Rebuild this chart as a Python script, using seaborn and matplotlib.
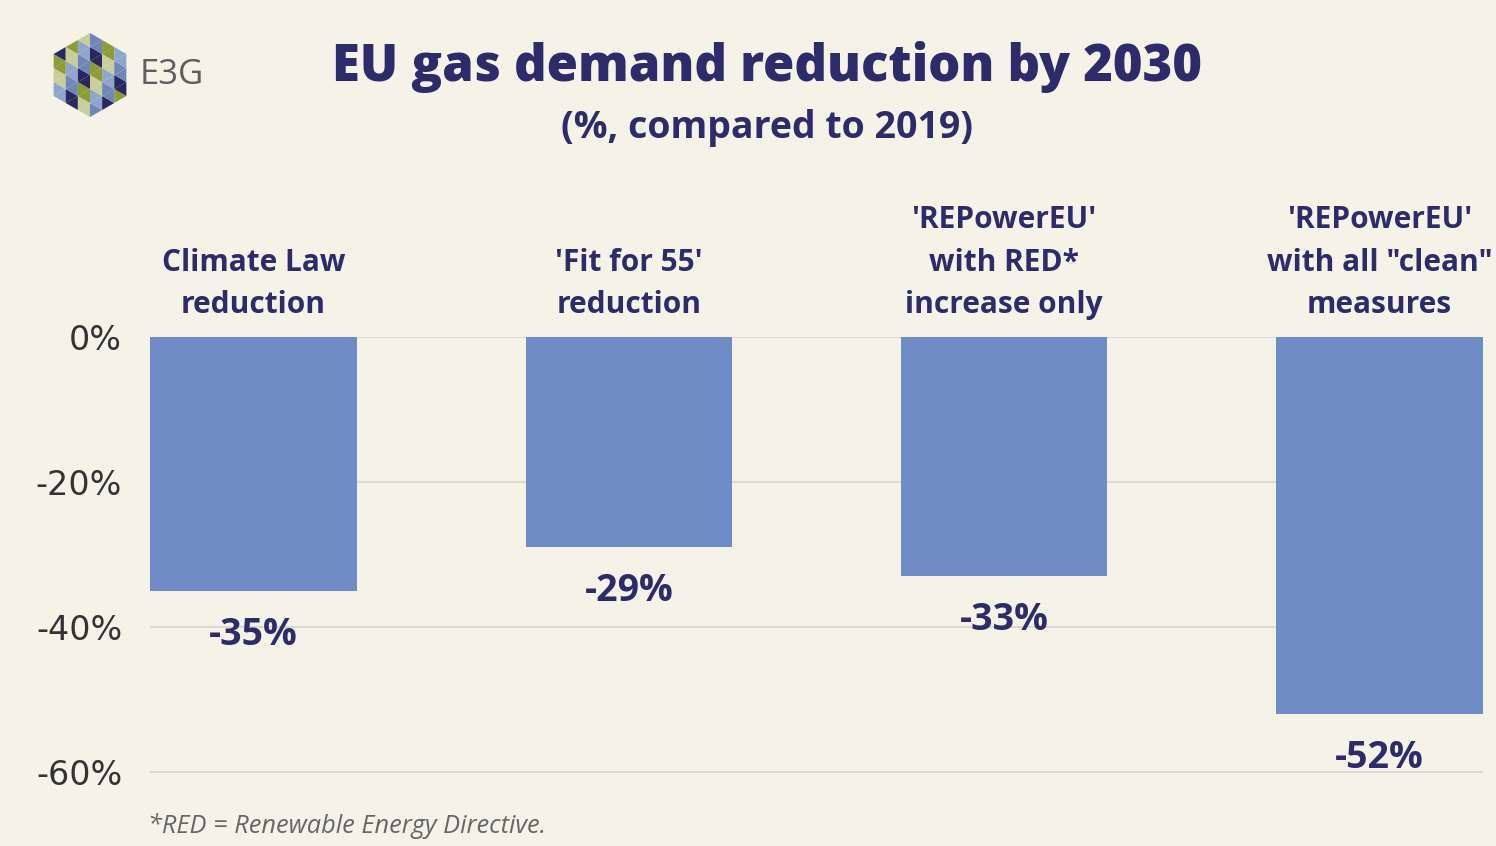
import numpy as np
import pandas as pd
import matplotlib
matplotlib.use("Agg")
import matplotlib.pyplot as plt
from matplotlib.patches import Polygon
import seaborn as sns

# Data
scenarios = [
    "Climate Law\nreduction",
    "'Fit for 55'\nreduction",
    "'REPowerEU'\nwith RED*\nincrease only",
    "'REPowerEU'\nwith all \"clean\"\nmeasures",
]
reduction_pct = [-35, -29, -33, -52]
ytick_values = [0, -20, -40, -60]
ytick_labels = ["0%", "-20%", "-40%", "-60%"]

BG = "#f5f2e7"
NAVY = "#2e2b6b"
BAR = "#6f8cc7"

sns.set_theme(style="white")
plt.rcParams["font.family"] = ["Open Sans", "DejaVu Sans"]

df = pd.DataFrame({"scenario": scenarios, "reduction": reduction_pct})

fig = plt.figure(figsize=(14.96, 8.46), dpi=100, facecolor=BG)
W, H = 1496, 846
ax = fig.add_axes([150 / W, 59.5 / H, (1483 - 150) / W, (786.5 - 337) / H])
ax.set_facecolor(BG)

sns.barplot(data=df, x="scenario", y="reduction", color=BAR, width=0.55,
            saturation=1, linewidth=0, edgecolor="none", ax=ax, zorder=3)

ax.set_xlim(-0.276, 3.276)
ax.set_ylim(-62, 0)
ax.set_yticks(ytick_values)
ax.set_yticklabels(ytick_labels, fontfamily="DejaVu Sans")
ax.set_xlabel("")
ax.set_ylabel("")
for s in ax.spines.values():
    s.set_visible(False)
ax.grid(False)
for v in ytick_values:
    ax.axhline(v, color="#dcdad0", lw=1.5, zorder=1)

ax.tick_params(axis="y", length=0, pad=20, labelsize=24, labelcolor="#333333")
ax.tick_params(axis="x", length=0, bottom=False, labelbottom=False,
               top=True, labeltop=True, pad=12, labelsize=21.5, labelcolor=NAVY)
for lbl in ax.get_xticklabels():
    lbl.set_fontweight("bold")
    lbl.set_linespacing(1.55)

for cont in ax.containers:
    ax.bar_label(cont, labels=[f"{v}%" for v in reduction_pct], padding=18,
                 fontsize=27, fontweight="bold", color=NAVY)

# Titles
fig.text(767 / W, 1 - 67 / H, "EU gas demand reduction by 2030", ha="center",
         va="center", fontsize=36.5, fontweight="heavy", color=NAVY)
fig.text(767 / W, 1 - 128 / H, "(%, compared to 2019)", ha="center",
         va="center", fontsize=27, fontweight="bold", color=NAVY)

# Footnote
fig.text(148 / W, 1 - 826 / H, "*RED = Renewable Energy Directive.", ha="left",
         va="center", fontsize=18.3, style="italic", color="#666666")

# Logo: hexagon built from a triangular lattice
lax = fig.add_axes([40 / W, 1 - 125 / H, 100 / W, 100 / H])
lax.set_xlim(-50, 50)
lax.set_ylim(-50, 50)
lax.set_aspect("equal")
lax.axis("off")
R = 42.0
n = 3
s = R / n
a = np.array([0.0, s])
b = np.array([np.cos(np.pi / 6) * s, np.sin(np.pi / 6) * s])
palette = ["#8f9b34", "#8ea6cc", "#2a2660", "#c9cd9c", "#6f86b8"]
normals = [np.array([np.cos(t), np.sin(t)]) for t in (0, np.pi / 3, 2 * np.pi / 3)]
lim = R * np.sqrt(3) / 2 + 1e-6
for i in range(-2 * n, 2 * n + 1):
    for j in range(-2 * n, 2 * n + 1):
        p = lambda u, v: u * a + v * b
        tris = [
            (0, [p(i, j), p(i + 1, j), p(i, j + 1)]),
            (1, [p(i + 1, j), p(i + 1, j + 1), p(i, j + 1)]),
        ]
        for orient, pts in tris:
            c = np.mean(pts, axis=0)
            if all(abs(c @ nn) <= lim for nn in normals):
                idx = (2 * i + 3 * j + 2 * orient) % len(palette)
                lax.add_patch(Polygon(pts, closed=True, facecolor=palette[idx],
                                      edgecolor="none"))

fig.text(140 / W, 1 - 75 / H, "E3G", ha="left", va="center", fontsize=25,
         color="#5e5e5e")

fig.savefig("out.png", dpi=100, facecolor=BG)
